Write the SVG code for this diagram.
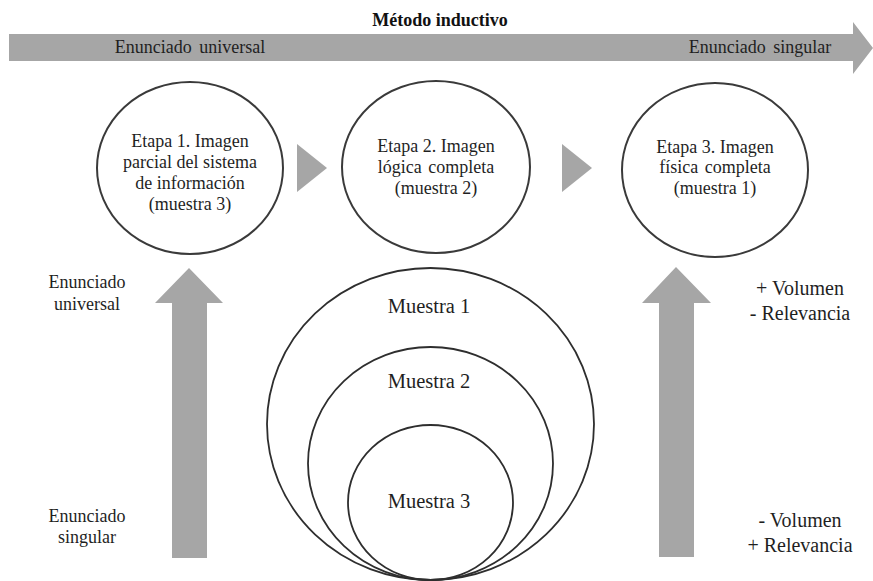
<svg xmlns="http://www.w3.org/2000/svg" width="873" height="581" viewBox="0 0 873 581">
<style>
.bg{fill:#ffffff}
.arrow{fill:#a6a6a6;stroke:none}
.node{fill:#ffffff;stroke:#3a3a3a;stroke-width:2}
.ring{fill:none;stroke:#2e2e2e;stroke-width:1.8}
text{font-family:"Liberation Serif","Times New Roman",serif;fill:#1f1f1f;text-anchor:middle}
.t18{font-size:18px}
.t20{font-size:20px}
.t21{font-size:20.5px}
.title{font-size:18px;font-weight:bold;fill:#111}
</style>
<rect class="bg" x="0" y="0" width="873" height="581"/>

<g id="connectors">
  <g id="top-arrow">
    <polygon class="arrow" points="9,34 853,34 853,22 873,48 853,74 853,61 9,61"/>
  </g>
  <polygon id="tri1" class="arrow" points="297,144 327,168 297,192"/>
  <polygon id="tri2" class="arrow" points="562,144 592,168 562,192"/>
  <polygon id="left-up-arrow" class="arrow" points="172,558 172,303 155,303 189,268 223,303 207,303 207,558"/>
  <polygon id="right-up-arrow" class="arrow" points="659,557 659,303 642,303 676,267 711,303 694,303 694,557"/>
</g>

<g id="labels">
  <text class="title" x="440" y="26">Método inductivo</text>
  <text class="t18" x="190" y="53" word-spacing="3">Enunciado universal</text>
  <text class="t18" x="760" y="53" word-spacing="3">Enunciado singular</text>
  <text class="t18" x="87" y="288">Enunciado</text>
  <text class="t18" x="87" y="310">universal</text>
  <text class="t18" x="87" y="522">Enunciado</text>
  <text class="t18" x="87" y="543">singular</text>
  <text class="t20" x="800" y="295">+ Volumen</text>
  <text class="t20" x="800" y="320">- Relevancia</text>
  <text class="t20" x="800" y="527">- Volumen</text>
  <text class="t20" x="800" y="552">+ Relevancia</text>
</g>

<g id="etapa1">
  <ellipse class="node" cx="190" cy="168" rx="93" ry="86"/>
  <text class="t18" x="190" y="147">Etapa 1. Imagen</text>
  <text class="t18" x="190" y="168">parcial del sistema</text>
  <text class="t18" x="190" y="189">de información</text>
  <text class="t18" x="190" y="210">(muestra 3)</text>
</g>

<g id="etapa2">
  <ellipse class="node" cx="436" cy="167" rx="94" ry="86"/>
  <text class="t18" x="436" y="152">Etapa 2. Imagen</text>
  <text class="t18" x="436" y="173" word-spacing="2">lógica completa</text>
  <text class="t18" x="436" y="194">(muestra 2)</text>
</g>

<g id="etapa3">
  <ellipse class="node" cx="715" cy="170" rx="93" ry="87"/>
  <text class="t18" x="715" y="153">Etapa 3. Imagen</text>
  <text class="t18" x="715" y="173" word-spacing="2">física completa</text>
  <text class="t18" x="715" y="194">(muestra 1)</text>
</g>

<g id="muestra1">
  <ellipse class="ring" cx="430.5" cy="424" rx="163.5" ry="156"/>
  <text class="t21" x="429" y="313">Muestra 1</text>
</g>
<g id="muestra2">
  <ellipse class="ring" cx="430.5" cy="463.5" rx="122.5" ry="116.5"/>
  <text class="t21" x="429" y="388">Muestra 2</text>
</g>
<g id="muestra3">
  <ellipse class="ring" cx="430.5" cy="502.5" rx="82.5" ry="77.5"/>
  <text class="t21" x="429" y="508">Muestra 3</text>
</g>
</svg>
